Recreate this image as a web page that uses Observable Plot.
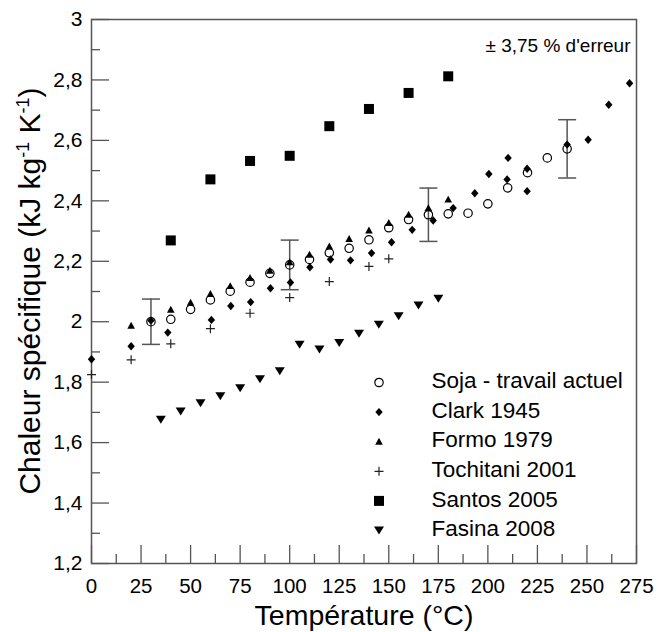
<!DOCTYPE html>
<html><head><meta charset="utf-8">
<script src="https://cdn.jsdelivr.net/npm/d3@7"></script>
<script src="https://cdn.jsdelivr.net/npm/@observablehq/plot@0.6"></script>
<style>
body{margin:0;background:#fff;}
#chart{position:relative;width:669px;height:632px;}
</style>
</head><body><div id="chart"></div>
<script>
// ---- data ----
const sojaT = [30,40,50,60,70,80,90,100,110,120,130,140,150,160,170,180,190,200,210,220,230,240];
const sojaV = [2.000,2.008,2.041,2.072,2.101,2.131,2.160,2.188,2.206,2.228,2.243,2.271,2.311,2.338,2.354,2.357,2.359,2.390,2.443,2.493,2.542,2.572];

const clarkT = [0,20,30,38.5,60.5,70.3,80.3,90.3,100.4,110.2,120.6,130.7,141.3,151.4,161.8,172.4,182.5,193.4,200.5,209.7,210.2,219.8,219.8,240,250.6,261,271.5];
const clarkV = [1.876,1.919,2.004,1.964,2.006,2.052,2.065,2.111,2.130,2.180,2.206,2.203,2.227,2.263,2.304,2.335,2.376,2.425,2.489,2.471,2.542,2.506,2.432,2.586,2.602,2.718,2.789];

const formoT = [20,40,50,60,70,80,90,100,110,120,130,140,150,160,170,180];
const formoV = [1.987,2.040,2.063,2.092,2.118,2.145,2.169,2.197,2.222,2.249,2.274,2.302,2.327,2.354,2.376,2.404];

const tochiT = [0,20,40,60,80,100,120,140,150];
const tochiV = [1.825,1.874,1.927,1.977,2.028,2.080,2.133,2.183,2.208];

const santosT = [40,60,80,100,120,140,160,180];
const santosV = [2.269,2.471,2.532,2.549,2.647,2.704,2.757,2.812];

const fasinaT = [35,45,55,65,75,85,95,105,115,125,135,145,155,165,175];
const fasinaV = [1.676,1.703,1.730,1.753,1.780,1.810,1.836,1.924,1.908,1.930,1.960,1.990,2.018,2.054,2.076];

const errT = [30,100,170,240];
const errPct = 3.75;

const seriesNames = ["Soja - travail actuel","Clark 1945","Formo 1979","Tochitani 2001","Santos 2005","Fasina 2008"];
const xMajor = [0,25,50,75,100,125,150,175,200,225,250,275];
const xMinor = [12.5,37.5,62.5,87.5,112.5,137.5,162.5,187.5,212.5,237.5,262.5];
const yMajor = [1.2,1.4,1.6,1.8,2,2.2,2.4,2.6,2.8,3];
const yMinor = [1.3,1.5,1.7,1.9,2.1,2.3,2.5,2.7,2.9];
const xTitle = "Température (°C)";
const note = "± 3,75 % d'erreur";

// ---- symbols ----
const sym = {
  diamond: {draw(c){c.moveTo(0,-4.2);c.lineTo(3.7,0);c.lineTo(0,4.2);c.lineTo(-3.7,0);c.closePath();}},
  triUp: {draw(c){c.moveTo(0,-3.9);c.lineTo(3.8,3);c.lineTo(-3.8,3);c.closePath();}},
  plus: {draw(c){c.moveTo(-4.5,0);c.lineTo(4.5,0);c.moveTo(0,-4.5);c.lineTo(0,4.5);}},
  square: {draw(c){c.rect(-5,-5,10,10);}},
  triDown: {draw(c){c.moveTo(-5,-4);c.lineTo(5,-4);c.lineTo(0,4);c.closePath();}},
  cap: {draw(c){c.moveTo(-9,0);c.lineTo(9,0);}}
};

const zip = (T,V) => T.map((t,i) => ({t, v: V[i]}));
const soja = zip(sojaT, sojaV), clark = zip(clarkT, clarkV), formo = zip(formoT, formoV),
      tochi = zip(tochiT, tochiV), santos = zip(santosT, santosV), fasina = zip(fasinaT, fasinaV);
const errData = errT.map(t => { const v = sojaV[sojaT.indexOf(t)]; return {t, lo: v*(1-errPct/100), hi: v*(1+errPct/100)}; });

const styles = [
  {symbol:"circle", r:4.2, fill:"none", stroke:"black", strokeWidth:1.2},
  {symbol:sym.diamond, fill:"black"},
  {symbol:sym.triUp, fill:"black"},
  {symbol:sym.plus, fill:"none", stroke:"#222", strokeWidth:1.2},
  {symbol:sym.square, fill:"black"},
  {symbol:sym.triDown, fill:"black"}
];
const datasets = [soja, clark, formo, tochi, santos, fasina];

const font = "'Liberation Sans', Arial, sans-serif";
const axisGray = "#555";

const legendMarks = [];
seriesNames.forEach((name, i) => {
  const dy = 363 + i*29.6;
  legendMarks.push(Plot.dot([0], {frameAnchor:"top-left", dx:287.5, dy, ...styles[i]}));
  legendMarks.push(Plot.text([name], {text:d=>d, frameAnchor:"top-left", dx:340, dy:dy-1.5, textAnchor:"start", lineAnchor:"middle", fontSize:22.5, fill:"black"}));
});

const plot = Plot.plot({
  width:669, height:632,
  marginLeft:91, marginRight:33, marginTop:19, marginBottom:69,
  style:{fontFamily:font, background:"white", color:"black"},
  x:{domain:[0,275]},
  y:{domain:[1.2,3]},
  marks:[
    Plot.axisX({ticks:xMajor, tickSize:-18, tickPadding:33, tickFormat:d=>String(d), fontSize:20.5, stroke:axisGray, strokeWidth:1.3, label:null}),
    Plot.axisX({ticks:xMinor, tickSize:-9, fill:"none", stroke:axisGray, strokeWidth:1.3, label:null}),
    Plot.axisY({ticks:yMajor, tickSize:-18, tickPadding:27, tickFormat:d=>String(d).replace(".", ","), fontSize:21, stroke:axisGray, strokeWidth:1.3, label:null}),
    Plot.axisY({ticks:yMinor, tickSize:-9, fill:"none", stroke:axisGray, strokeWidth:1.3, label:null}),
    Plot.frame({stroke:axisGray, strokeWidth:1.5}),
    Plot.ruleX(errData, {x:"t", y1:"lo", y2:"hi", stroke:axisGray, strokeWidth:1.5}),
    Plot.dot(errData, {x:"t", y:"lo", symbol:sym.cap, stroke:axisGray, strokeWidth:1.5, fill:"none"}),
    Plot.dot(errData, {x:"t", y:"hi", symbol:sym.cap, stroke:axisGray, strokeWidth:1.5, fill:"none"}),
    ...datasets.map((d,i) => Plot.dot(d, {x:"t", y:"v", ...styles[i]})),
    Plot.text([note], {text:d=>d, frameAnchor:"top-right", dx:-6, dy:26.3, textAnchor:"end", lineAnchor:"middle", fontSize:19, fill:"black"}),
    Plot.text([xTitle], {text:d=>d, frameAnchor:"bottom", dy:52, lineAnchor:"middle", fontSize:28.5, fill:"black"}),
    ...legendMarks
  ]
});

// y-axis title with superscripts
const svg = d3.select(plot);
const yt = svg.append("text")
  .attr("transform", "translate(40,291) rotate(-90)")
  .attr("text-anchor", "middle")
  .attr("font-size", 30)
  .attr("font-family", font)
  .attr("fill", "black");
yt.append("tspan").text("Chaleur spécifique (kJ kg");
yt.append("tspan").attr("dy", -11).attr("font-size", 18).text("-1");
yt.append("tspan").attr("dy", 11).text(" K");
yt.append("tspan").attr("dy", -11).attr("font-size", 18).text("-1");
yt.append("tspan").attr("dy", 11).text(")");

document.getElementById("chart").appendChild(plot);
</script>
</body></html>
